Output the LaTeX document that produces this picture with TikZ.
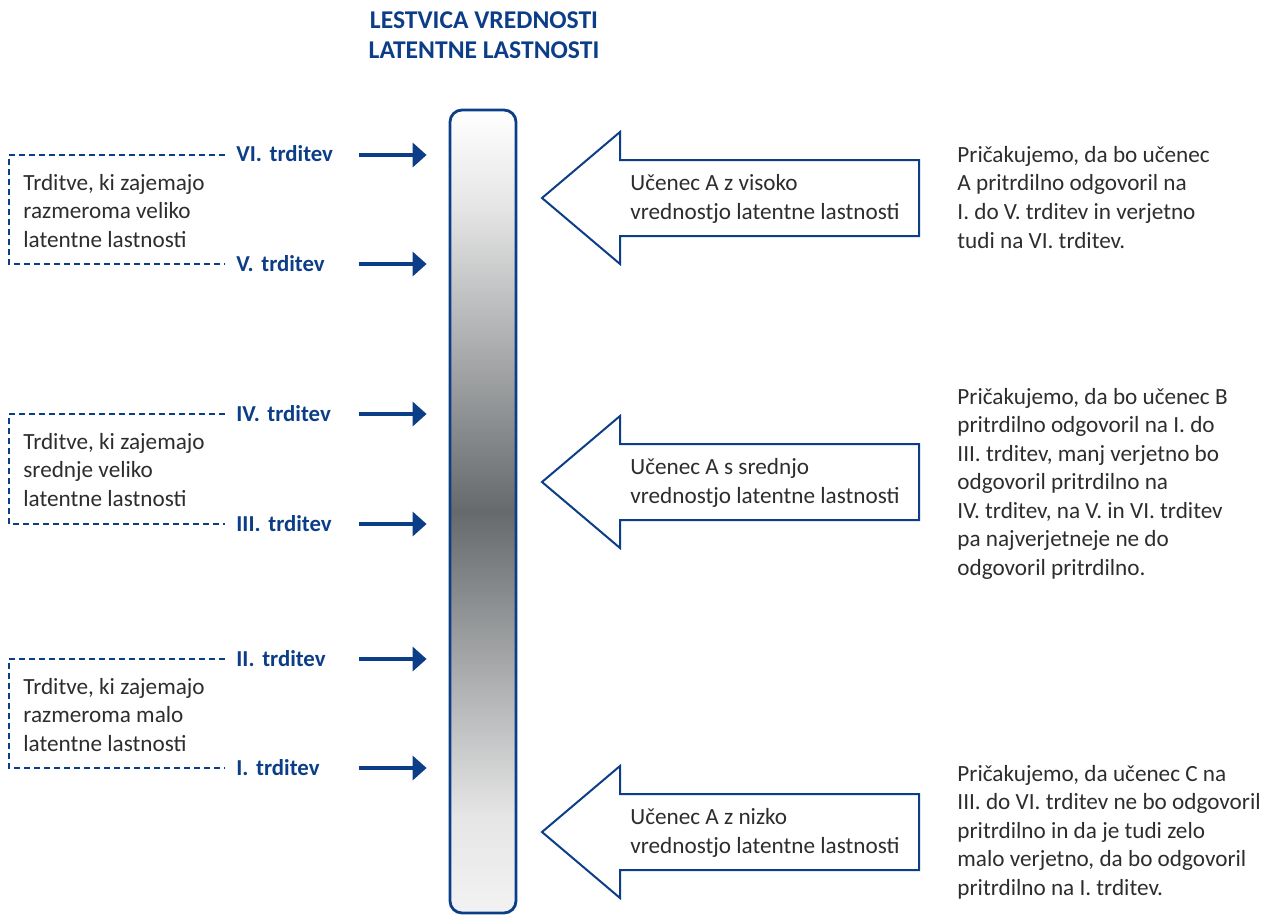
\documentclass[tikz,border=0pt]{standalone}
\usepackage{fontspec}
\setmainfont{Carlito}
\usepackage{tikz}
\usetikzlibrary{arrows.meta}

\definecolor{scaleblue}{RGB}{12,62,135}
\definecolor{bodygray}{RGB}{45,45,45}
\definecolor{barmid}{RGB}{102,106,109}
\pgfdeclareverticalshading{barshade}{100bp}{color(0bp)=(white); color(25bp)=(black!5); color(31bp)=(black!10);
  color(50bp)=(barmid); color(69bp)=(black!10); color(75bp)=(white); color(100bp)=(white)}

\tikzset{
  bodyfont/.style={font=\fontsize{11.6pt}{14.25pt}\selectfont},
  itemlabel/.style={anchor=west, font=\fontsize{11.4pt}{14pt}\selectfont\bfseries, text=scaleblue,
    inner sep=0pt, text width=61pt, text height=7pt, text depth=0pt},
  itemarrow/.style={scaleblue, line width=2pt, -{Triangle[length=7pt,width=12pt]}, shorten >=11pt},
  groupbox/.style={scaleblue, line width=0.75pt, dash pattern=on 3pt off 2pt},
  grouptext/.style={bodyfont, anchor=base west, align=left, text=bodygray, inner sep=0pt},
  studentarrow/.style={draw=scaleblue, line width=1pt, fill=white, line join=miter},
  scalebar/.style={draw=scaleblue, line width=1.4pt, rounded corners=6pt, shading=barshade, inner sep=0pt}
}

\begin{document}
\begin{tikzpicture}[x=0.5pt, y=-0.5pt]
    \useasboundingbox (0,0) rectangle (1263,915);
    % title (base anchor sits on the last line)
    \node[anchor=base, align=center, text=scaleblue, inner sep=0pt,
      font=\fontsize{12.8pt}{15pt}\selectfont\bfseries] (title) at (484,59) {LESTVICA VREDNOSTI\\LATENTNE LASTNOSTI};
    % the scale
    \node[scalebar, minimum width=33pt, minimum height=401.5pt] (scale) at (483,511.5) {};
    % items
    \foreach \y/\lab in {155/VI, 264/V, 414/IV, 524/III, 659/II, 768/I} {
      \node[itemlabel] (item\lab) at (236,\y) {\lab. trditev};
      \draw[itemarrow] (item\lab.east) -- (item\lab.east -| scale.west);
    }
    % groups of items
    \draw[groupbox] ([xshift=-5.5pt]itemVI.west) -| (9,264) -- ([xshift=-5.5pt]itemV.west);
    \draw[groupbox] ([xshift=-5.5pt]itemIV.west) -| (9,524) -- ([xshift=-5.5pt]itemIII.west);
    \draw[groupbox] ([xshift=-5.5pt]itemII.west) -| (9,768) -- ([xshift=-5.5pt]itemI.west);
    \node[grouptext] (grouphigh) at (23,247) {Trditve, ki zajemajo\\razmeroma veliko\\latentne lastnosti};
    \node[grouptext] (groupmid) at (23,506) {Trditve, ki zajemajo\\srednje veliko\\latentne lastnosti};
    \node[grouptext] (grouplow) at (23,751) {Trditve, ki zajemajo\\razmeroma malo\\latentne lastnosti};
    % students
    \foreach \cy/\txt [count=\i] in {198/{Učenec A z visoko\\vrednostjo latentne lastnosti},
        482/{Učenec A s srednjo\\vrednostjo latentne lastnosti},
        832/{Učenec A z nizko\\vrednostjo latentne lastnosti}} {
      \draw[studentarrow] (542,\cy) -- (620,\cy-66) -- (620,\cy-38) -- (919,\cy-38)
        -- (919,\cy+38) -- (620,\cy+38) -- (620,\cy+66) -- cycle;
      \node[grouptext] (student\i) at (630,\cy+21) {\txt};
    }
    % expectations
    \node[grouptext] (noteA) at (957,248) {Pričakujemo, da bo učenec\\A pritrdilno odgovoril na\\I. do V. trditev in verjetno\\tudi na VI. trditev.};
    \node[grouptext] (noteB) at (957,575) {Pričakujemo, da bo učenec B\\pritrdilno odgovoril na I. do\\III. trditev, manj verjetno bo\\odgovoril pritrdilno na\\IV. trditev, na V. in VI. trditev\\pa najverjetneje ne do\\odgovoril pritrdilno.};
    \node[grouptext] (noteC) at (957,895) {Pričakujemo, da učenec C na\\III. do VI. trditev ne bo odgovoril\\pritrdilno in da je tudi zelo\\malo verjetno, da bo odgovoril\\pritrdilno na I. trditev.};
\end{tikzpicture}
\end{document}
